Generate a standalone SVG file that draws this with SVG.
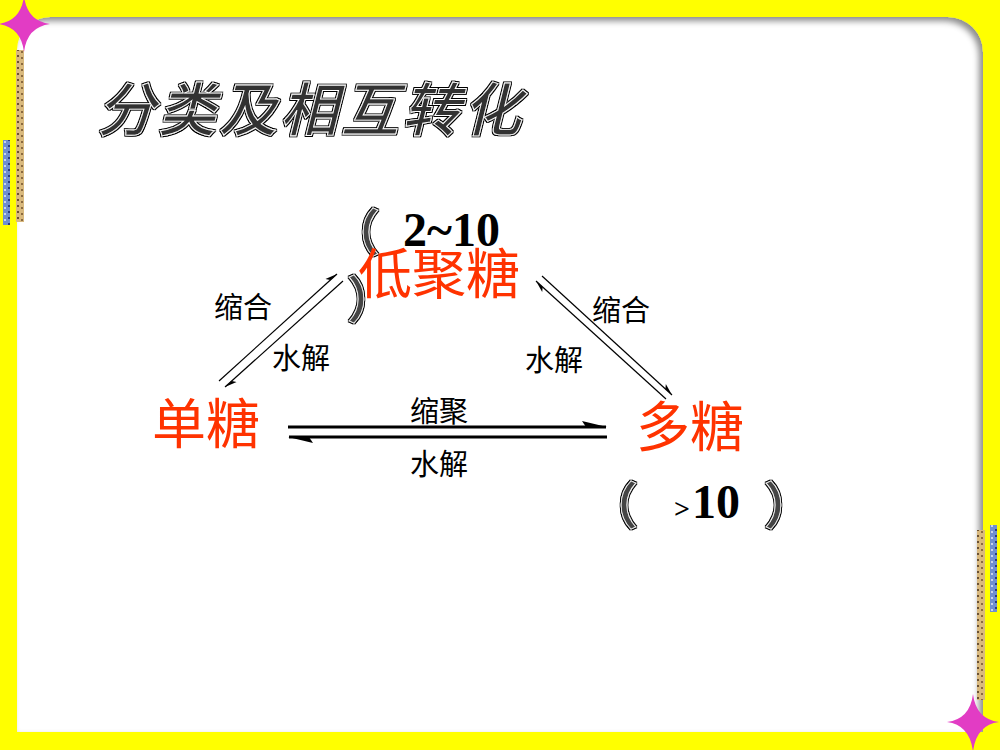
<svg xmlns="http://www.w3.org/2000/svg" width="1000" height="750" viewBox="0 0 1000 750">
<style>
.cn{font-family:"Noto Sans CJK SC","Noto Sans",sans-serif;}
.lbl{font-size:29px;fill:#000;}
.red{font-size:54px;fill:#FF3300;}
.br{font-size:50px;font-weight:bold;fill:#444;stroke:#FFF;stroke-width:0.8;}
.num{font-family:"Liberation Serif","Times New Roman",serif;font-weight:bold;fill:#000;}
.thin{stroke:#000;stroke-width:1.2;fill:none;}
.thick{stroke:#000;stroke-width:3;fill:none;}
.star{fill:#E23CC4;}
</style>
<defs>
<filter id="shadow" x="-5%" y="-5%" width="110%" height="110%">
<feGaussianBlur in="SourceAlpha" stdDeviation="3"/>
<feOffset dx="-4" dy="4" result="b"/>
<feFlood flood-color="#000" flood-opacity="0.45"/>
<feComposite in2="b" operator="in" result="s"/>
<feMerge><feMergeNode in="s"/><feMergeNode in="SourceGraphic"/></feMerge>
</filter>
<filter id="outline" x="-5%" y="-10%" width="110%" height="120%">
<feMorphology in="SourceAlpha" operator="dilate" radius="1.3" result="d"/>
<feFlood flood-color="#000"/>
<feComposite in2="d" operator="in" result="o"/>
<feMerge><feMergeNode in="o"/><feMergeNode in="SourceGraphic"/></feMerge>
</filter>
<pattern id="tan" width="8" height="6" patternUnits="userSpaceOnUse">
<rect width="8" height="6" fill="#D9B97E"/>
<rect x="1" y="1" width="2" height="2" fill="#6B5030"/>
<rect x="5" y="3" width="2" height="2" fill="#8A6A40"/>
</pattern>
<pattern id="blue" width="7" height="6" patternUnits="userSpaceOnUse">
<rect width="7" height="6" fill="#6F8FD0"/>
<rect x="1" y="1" width="2" height="2" fill="#2A3C80"/>
<rect x="4" y="3" width="2" height="2" fill="#C8D4F0"/>
</pattern>
<marker id="half" viewBox="-12 -5 14 10" markerWidth="14" markerHeight="10" refX="0" refY="0" orient="auto" markerUnits="userSpaceOnUse">
<path d="M0,0 L-12,-4 L-9,0 Z" fill="#000"/>
</marker>
<marker id="halfB" viewBox="-26 -7 28 10" markerWidth="28" markerHeight="10" refX="0" refY="0" orient="auto" markerUnits="userSpaceOnUse">
<path d="M1,0 L-24,-6 L-20,0 Z" fill="#000"/>
</marker>
</defs>

<!-- background -->
<rect width="1000" height="750" fill="#FFFFFF"/>
<path filter="url(#shadow)" fill="#FFFF00" fill-rule="evenodd" d="M0,0 H1000 V750 H0 Z M17,732 H983 V52 A35,35 0 0 0 948,17 H50 A33,33 0 0 0 17,50 Z"/>

<!-- decorations -->
<rect x="16" y="50" width="8" height="172" fill="url(#tan)"/>
<rect x="3" y="140" width="7" height="85" fill="url(#blue)"/>
<rect x="977" y="530" width="8" height="170" fill="url(#tan)"/>
<rect x="990" y="525" width="7" height="87" fill="url(#blue)"/>
<path class="star" d="M24,-4 Q27,21 50,24 Q27,27 24,52 Q21,27 -2,24 Q21,21 24,-4 Z"/>
<path class="star" d="M973,694 Q976,719 999,722 Q976,725 973,752 Q970,725 947,722 Q970,719 973,694 Z"/>

<!-- title -->
<text x="97" y="131" class="cn" font-size="58" font-weight="500" font-style="italic" fill="#333" stroke="#FFF" stroke-width="0.9" filter="url(#outline)" letter-spacing="3">分类及相互转化</text>

<!-- connectors -->
<g id="connectors">
<line class="thin" x1="219" y1="381" x2="337" y2="274" marker-end="url(#half)"/>
<line class="thin" x1="343" y1="281" x2="225" y2="387" marker-end="url(#half)"/>
<line class="thin" x1="542" y1="276" x2="672" y2="395" marker-end="url(#half)"/>
<line class="thin" x1="666" y1="399" x2="536" y2="281" marker-end="url(#half)"/>
<line class="thick" x1="288" y1="427" x2="606" y2="427" marker-end="url(#halfB)"/>
<line class="thick" x1="607" y1="437" x2="289" y2="437" marker-end="url(#halfB)"/>
<text x="214" y="318" class="cn lbl">缩合</text>
<text x="272" y="369" class="cn lbl">水解</text>
<text x="592" y="321" class="cn lbl">缩合</text>
<text x="525" y="371" class="cn lbl">水解</text>
<text x="410" y="422" class="cn lbl">缩聚</text>
<text x="410" y="475" class="cn lbl">水解</text>
</g>

<!-- nodes -->
<g id="node-oligo">
<text x="330" y="251" class="cn br" filter="url(#outline)">（</text>
<text x="403" y="246" class="num" font-size="48">2~10</text>
<text x="358" y="294" class="cn red">低聚糖</text>
<text x="347" y="318" class="cn br" font-size="54" filter="url(#outline)">）</text>
</g>
<g id="node-mono">
<text x="152" y="444" class="cn red">单糖</text>
</g>
<g id="node-poly">
<text x="636" y="447" class="cn red">多糖</text>
<text x="588" y="524" class="cn br" filter="url(#outline)">（</text>
<text x="674" y="518" class="num" font-size="28">&gt;</text>
<text x="692" y="518" class="num" font-size="48">10</text>
<text x="764" y="524" class="cn br" filter="url(#outline)">）</text>
</g>
</svg>
